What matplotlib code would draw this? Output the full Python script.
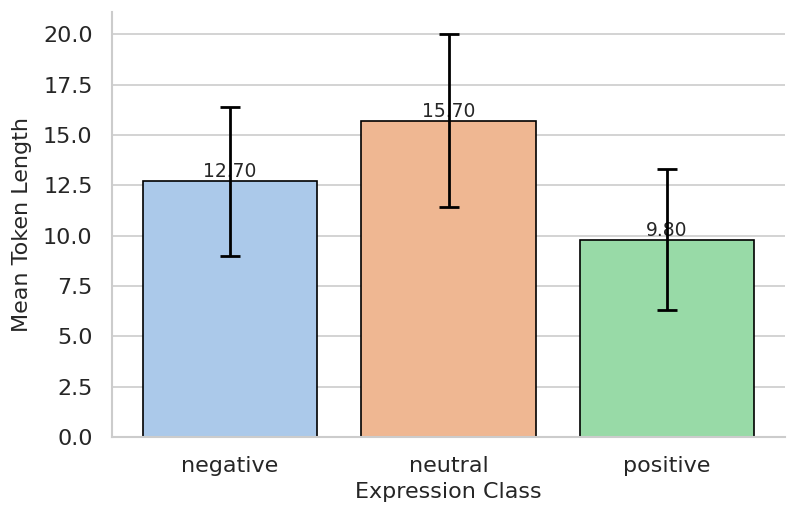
import colorsys
import matplotlib
matplotlib.use("Agg")
import matplotlib.pyplot as plt
import seaborn as sns

# data
classes = ["negative", "neutral", "positive"]
mean_len = [12.7, 15.7, 9.8]
err_len = [3.7, 4.3, 3.5]
base_colors = ["#a1c9f4", "#ffb482", "#8de5a1"]


def desat(hexc, s=0.75):
    r, g, b = matplotlib.colors.to_rgb(hexc)
    h, l, sat = colorsys.rgb_to_hls(r, g, b)
    return colorsys.hls_to_rgb(h, l, sat * s)


sns.set_theme(style="whitegrid")
plt.rcParams['font.family'] = ['DejaVu Sans']

fig = plt.figure(figsize=(7.98, 5.21), dpi=100)
ax = fig.add_axes([0.1404, 0.1612, 0.8434, 0.8158])

x = range(len(classes))
bars = ax.bar(x, mean_len, width=0.8, color=[desat(c) for c in base_colors],
              edgecolor="black", linewidth=1.2, zorder=2)
ax.errorbar(x, mean_len, yerr=err_len, fmt="none", ecolor="black",
            elinewidth=2, capsize=7, capthick=2, zorder=3)

for xi, v in zip(x, mean_len):
    ax.text(xi, v, "{:.2f}".format(v), ha="center", va="bottom",
            fontsize=13.5, color="#262626", zorder=1)

ax.set_xticks(list(x))
ax.set_xticklabels(classes)
ax.set_xlim(-0.54, 2.54)
ax.set_ylim(0, 21.1)
ax.set_yticks([0, 2.5, 5, 7.5, 10, 12.5, 15, 17.5, 20])
ax.tick_params(labelsize=16, colors="#262626", pad=8)
ax.set_xlabel("Expression Class", fontsize=16, color="#262626", labelpad=4)
ax.set_ylabel("Mean Token Length", fontsize=16, color="#262626", labelpad=8)
ax.grid(axis="x", visible=False)
ax.grid(axis="y", color="#cccccc", linewidth=1.2)
ax.set_axisbelow(True)
sns.despine(ax=ax)
for s in ["left", "bottom"]:
    ax.spines[s].set_color("#cccccc")
    ax.spines[s].set_linewidth(1.5)

fig.savefig("out.png", dpi=100)
